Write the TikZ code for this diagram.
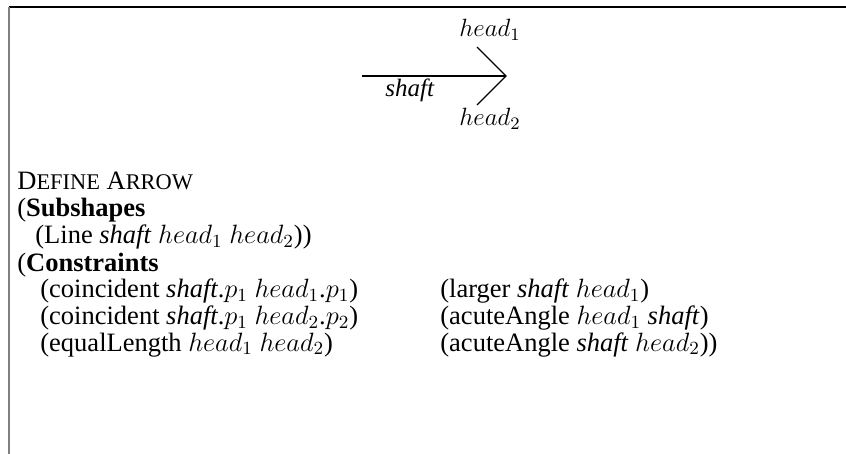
\RequirePackage{fix-cm}
\documentclass[tikz,border=0pt]{standalone}
\usepackage{fontspec}
\setmainfont{Liberation Serif}
\newcommand{\fsc}[1]{{\fontsize{11.2}{12}\selectfont #1}}
\begin{document}
\begin{tikzpicture}[x=0.5pt,y=-0.5pt,
  txt/.style={anchor=base west, inner sep=0pt, font=\fontsize{13.25}{14}\selectfont},
  lbl/.style={inner sep=0pt, font=\fontsize{12.5}{13.5}\selectfont},
  frameline/.style={line width=0.75pt},
  sideline/.style={line width=1pt, gray},
  stroke/.style={line width=0.6pt}]
\useasboundingbox (0,0) rectangle (846,454);
% frame
\coordinate (ftl) at (9,7);
\coordinate (ftr) at (846,7);
\coordinate (fbl) at (9,454);
\draw[frameline] (ftl) -- (ftr);
\draw[sideline] (ftl) -- (fbl);
% arrow sketch
\coordinate (tail) at (362,76);
\coordinate (tip) at (506,76);
\coordinate (h1) at (477,47);
\coordinate (h2) at (477,105);
\draw[stroke] (tail) -- (tip);
\draw[stroke] (h1) -- (tip) -- (h2);
\node[lbl] (lh1) at (490,30) {$head_1$};
\node[lbl] (lh2) at (490,119) {$head_2$};
\node[lbl] (lsh) at (410,90) {\textit{shaft}};
% description
\node[txt] (l1) at (17,190) {D\fsc{EFINE} A\fsc{RROW}};
\node[txt] (l2) at (17,217) {(\textbf{Subshapes}};
\node[txt] (l3) at (35,244) {(Line \textit{shaft} $head_1$ $head_2$))};
\node[txt] (l4) at (17,271) {(\textbf{Constraints}};
\node[txt] (l5a) at (40,298) {(coincident \textit{shaft}.$p_1$ $head_1$.$p_1$)};
\node[txt] (l6a) at (40,325) {(coincident \textit{shaft}.$p_1$ $head_2$.$p_2$)};
\node[txt] (l7a) at (40,351) {(equalLength $head_1$ $head_2$)};
\node[txt] (l5b) at (440,298) {(larger \textit{shaft} $head_1$)};
\node[txt] (l6b) at (440,325) {(acuteAngle $head_1$ \textit{shaft})};
\node[txt] (l7b) at (440,351) {(acuteAngle \textit{shaft} $head_2$))};
\end{tikzpicture}
\end{document}
